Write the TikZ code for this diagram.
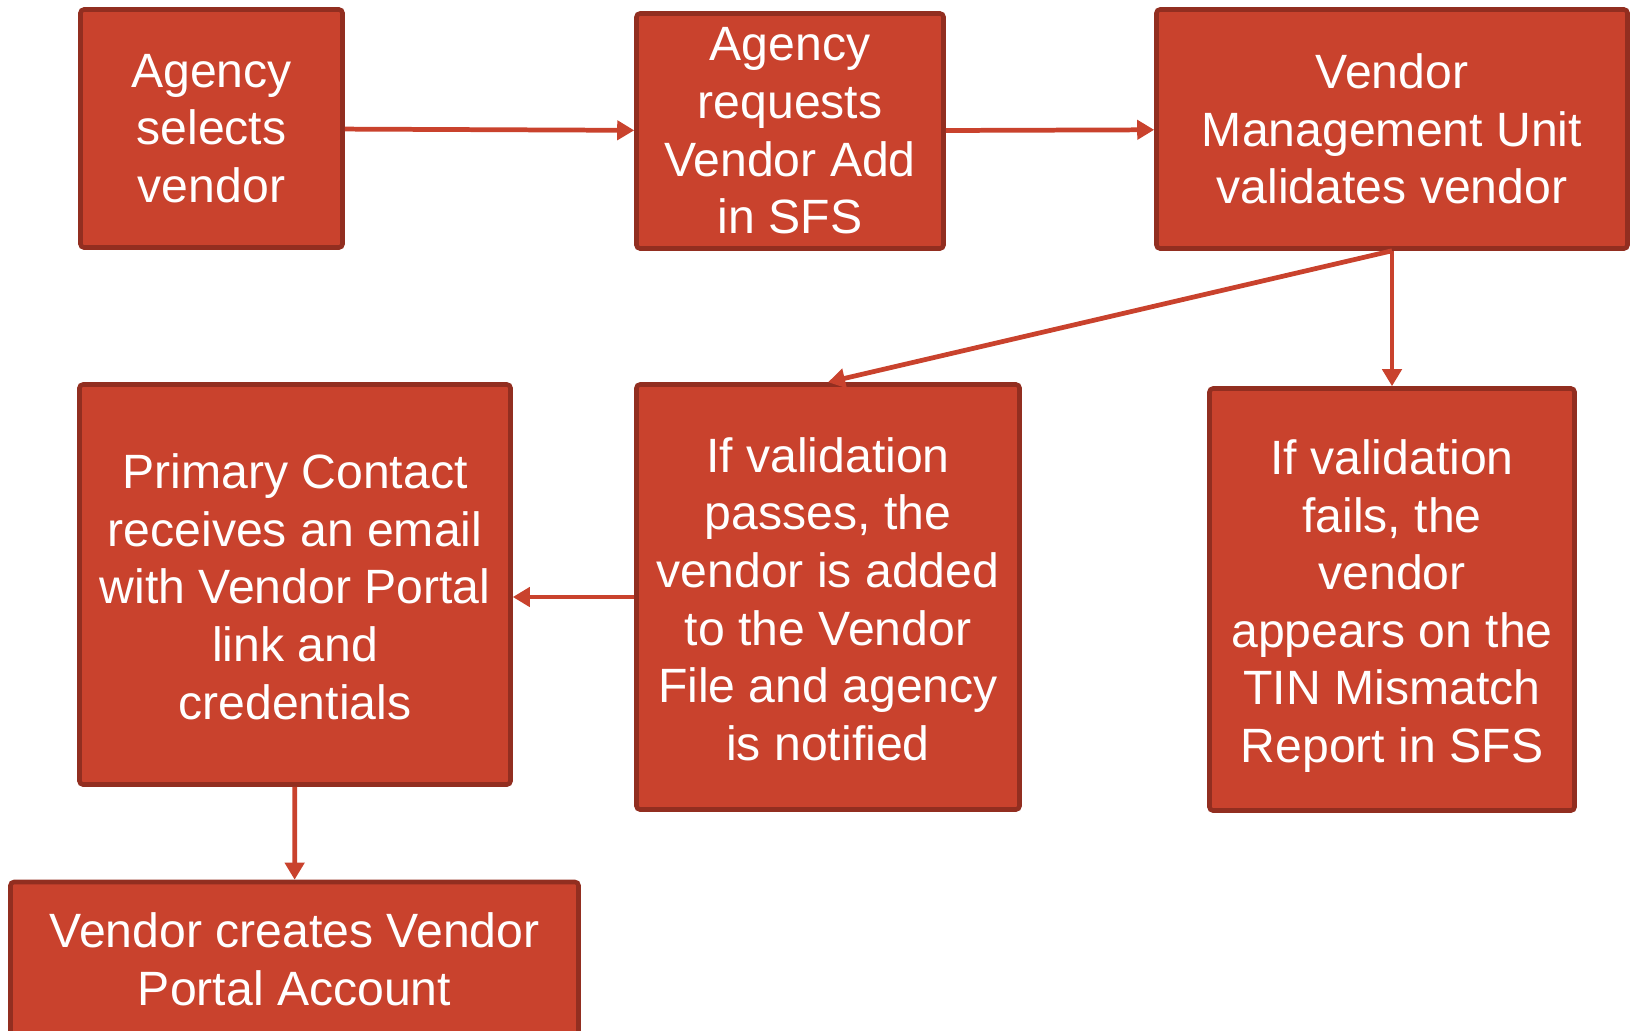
\documentclass[tikz,border=0pt]{standalone}
\usepackage{fontspec}
\setmainfont{Liberation Sans}
\usetikzlibrary{arrows.meta}

\definecolor{stepred}{RGB}{201,66,45}
\definecolor{stepedge}{RGB}{146,46,32}

\begin{document}
\begin{tikzpicture}
    % Define styles
    \tikzstyle{stepbox} = [draw=stepedge, line width=1.3pt, fill=stepred, rounded corners=1pt, text=white, align=center, inner sep=2pt, font=\fontsize{13.7}{16.4}\selectfont]
    \tikzstyle{arrow} = [-{Triangle[length=0.17cm, width=0.19cm]}, draw=stepred, line width=1.35pt]

    \useasboundingbox (0,0) rectangle (16.31,-10.30);

    % Top row
    \node[stepbox, minimum width=2.62cm, minimum height=2.38cm] (select) at (2.115,-1.285) {Agency\\selects\\vendor};
    \node[stepbox, minimum width=3.07cm, minimum height=2.35cm] (request) at (7.90,-1.31) {Agency\\requests\\Vendor Add\\in SFS};
    \node[stepbox, minimum width=4.71cm, minimum height=2.39cm] (validate) at (13.92,-1.29) {Vendor\\Management Unit\\validates vendor};

    % Middle row (a strut on the first line lowers the text a little)
    \node[stepbox, minimum width=4.31cm, minimum height=4.00cm] (email) at (2.95,-5.845) {\rule{0pt}{0.39cm}Primary Contact\\receives an email\\with Vendor Portal\\link and\\credentials};
    \node[stepbox, minimum width=3.83cm, minimum height=4.25cm] (passes) at (8.28,-5.97) {\rule{0pt}{0.39cm}If validation\\passes, the\\vendor is added\\to the Vendor\\File and agency\\is notified};
    \node[stepbox, minimum width=3.65cm, minimum height=4.22cm] (fails) at (13.92,-5.995) {\rule{0pt}{0.48cm}If validation\\fails, the\\vendor\\appears on the\\TIN Mismatch\\Report in SFS};

    % Bottom box
    \node[stepbox, minimum width=5.68cm, minimum height=1.54cm] (account) at (2.945,-9.59) {Vendor creates Vendor\\Portal Account};

    % Arrows
    \draw[arrow] (select) -- (request);
    \draw[arrow] (request) -- (validate);
    \draw[arrow] (validate.south) -- (passes.north);
    \draw[arrow] (validate.south) -- (fails.north);
    \draw[arrow] (passes.west) -- (passes.west -| email.east);
    \draw[arrow] (email) -- (account);

\end{tikzpicture}
\end{document}
